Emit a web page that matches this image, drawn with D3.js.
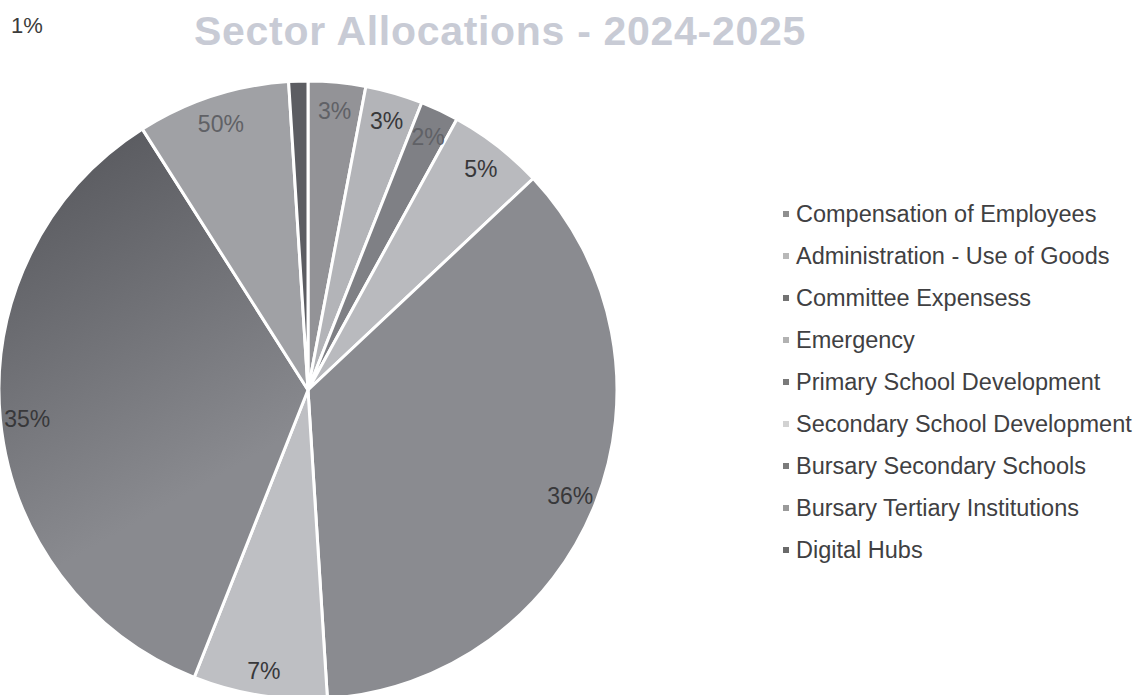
<!DOCTYPE html>
<html>
<head>
<meta charset="utf-8">
<script src="https://cdn.jsdelivr.net/npm/d3@7"></script>
<style>
  html, body { margin: 0; padding: 0; background: #ffffff; }
  svg { display: block; }
</style>
</head>
<body>
<svg id="chart" width="1141" height="695"></svg>
<script>
// Sector allocation shares (percent of the 2024-2025 budget)
const categories = [
  "Compensation of Employees",
  "Administration - Use of Goods",
  "Committee Expensess",
  "Emergency",
  "Primary School Development",
  "Secondary School Development",
  "Bursary Secondary Schools",
  "Bursary Tertiary Institutions",
  "Digital Hubs"
];
const shares = [3, 3, 2, 5, 36, 7, 35, 8, 1];
// Data labels as printed on the chart
const dataLabels = ["3%", "3%", "2%", "5%", "36%", "7%", "35%", "50%", "1%"];
const sliceColors = ["#939397", "#b3b4b8", "#7f8085", "#b9babe", "#8a8b90",
                     "#bebfc3", "#76777c", "#a0a1a5", "#5c5d62"];
const legendColors = ["#8f8f8f", "#b8b8b8", "#737373", "#b2b2b2", "#7a7a7a",
                      "#d2d2d2", "#7b7b7b", "#9a9a9a", "#6a6a6a"];
const titleText = "Sector Allocations - 2024-2025";

const svg = d3.select("#chart");
const cx = 308, cy = 390, radius = 309;
const font = "'Liberation Sans', Arial, sans-serif";

// Darker shading across the upper-left part of the largest left slice
const defs = svg.append("defs");
const grad = defs.append("linearGradient")
  .attr("id", "shadeLeft")
  .attr("gradientUnits", "userSpaceOnUse")
  .attr("x1", 60 - cx).attr("y1", 170 - cy)
  .attr("x2", 230 - cx).attr("y2", 470 - cy);
grad.append("stop").attr("offset", "0%").attr("stop-color", "#5b5c61");
grad.append("stop").attr("offset", "100%").attr("stop-color", "#898a8f");

// Title
svg.append("text")
  .attr("x", 500).attr("y", 45)
  .attr("text-anchor", "middle")
  .attr("font-family", font)
  .attr("font-weight", "bold")
  .attr("font-size", 41)
  .attr("letter-spacing", 0.7)
  .attr("fill", "#c8cbd5")
  .text(titleText);

// Pie
const pie = d3.pie().sort(null).value(d => d)
  .startAngle(0).endAngle(2 * Math.PI);
const arcs = pie(shares);
const arcGen = d3.arc().innerRadius(0).outerRadius(radius);
const labelArc = d3.arc().innerRadius(282).outerRadius(282);

const g = svg.append("g").attr("transform", `translate(${cx},${cy})`);

g.selectAll("path.slice")
  .data(arcs)
  .join("path")
  .attr("class", "slice")
  .attr("d", arcGen)
  .attr("fill", (d, i) => i === 6 ? "url(#shadeLeft)" : sliceColors[i])
  .attr("stroke", "#ffffff")
  .attr("stroke-width", 3)
  .attr("stroke-linejoin", "round");

// Data labels inside the outer rim; the smallest slice's label sits detached in the corner
arcs.forEach((d, i) => {
  if (i === arcs.length - 1) {
    svg.append("text")
      .attr("x", 27).attr("y", 25)
      .attr("text-anchor", "middle")
      .attr("dominant-baseline", "central")
      .attr("font-family", font)
      .attr("font-size", 22)
      .attr("fill", "#3c3c3c")
      .text(dataLabels[i]);
    return;
  }
  const [lx, ly] = labelArc.centroid(d);
  g.append("text")
    .attr("x", lx).attr("y", ly + 2)
    .attr("text-anchor", "middle")
    .attr("dominant-baseline", "central")
    .attr("font-family", font)
    .attr("font-size", 23)
    .attr("fill", (i === 0 || i === 2 || i === 7) ? "#606166" : "#38383a")
    .text(dataLabels[i]);
});

// Legend
const legend = svg.append("g").attr("transform", "translate(783,214)");
const rowStep = 42;
const items = legend.selectAll("g.item")
  .data(categories)
  .join("g")
  .attr("class", "item")
  .attr("transform", (d, i) => `translate(0,${i * rowStep})`);
items.append("rect")
  .attr("x", 0).attr("y", -3)
  .attr("width", 6).attr("height", 6)
  .attr("fill", (d, i) => legendColors[i]);
items.append("text")
  .attr("x", 13).attr("y", 0)
  .attr("dominant-baseline", "central")
  .attr("font-family", font)
  .attr("font-size", 23.5)
  .attr("fill", "#404042")
  .text(d => d);
</script>
</body>
</html>
